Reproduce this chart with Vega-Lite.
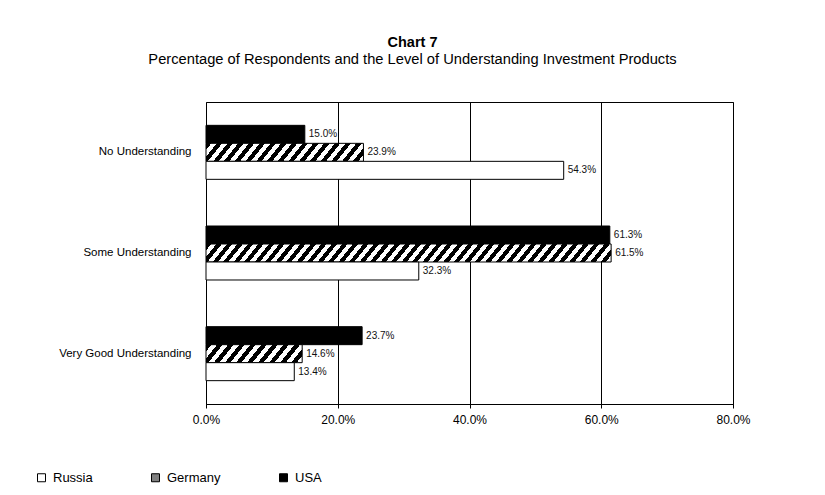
{
  "$schema": "https://vega.github.io/schema/vega-lite/v6.json",
  "width": 527,
  "height": 302,
  "autosize": {"type": "none"},
  "padding": {"left": 206, "top": 102, "right": 92, "bottom": 91},
  "background": "white",
  "config": {"font": "Liberation Sans", "view": {"stroke": "#000", "strokeWidth": 1}},
  "title": {
    "text": "Chart 7",
    "subtitle": "Percentage of Respondents and the Level of Understanding Investment Products",
    "anchor": "middle",
    "frame": "group",
    "dx": -57,
    "offset": 34,
    "fontSize": 14.5,
    "fontWeight": "bold",
    "color": "#000",
    "font": "Liberation Sans",
    "subtitleFont": "Liberation Sans",
    "subtitleFontSize": 14.7,
    "subtitleColor": "#000",
    "subtitlePadding": 2
  },
  "data": {
    "values": [
      {"level": "No Understanding", "country": "USA", "value": 0.150},
      {"level": "No Understanding", "country": "Germany", "value": 0.239},
      {"level": "No Understanding", "country": "Russia", "value": 0.543},
      {"level": "Some Understanding", "country": "USA", "value": 0.613},
      {"level": "Some Understanding", "country": "Germany", "value": 0.615},
      {"level": "Some Understanding", "country": "Russia", "value": 0.323},
      {"level": "Very Good Understanding", "country": "USA", "value": 0.237},
      {"level": "Very Good Understanding", "country": "Germany", "value": 0.146},
      {"level": "Very Good Understanding", "country": "Russia", "value": 0.134}
    ]
  },
  "encoding": {
    "y": {
      "field": "level",
      "type": "nominal",
      "sort": ["No Understanding", "Some Understanding", "Very Good Understanding"],
      "scale": {"paddingInner": 0.4636, "paddingOuter": 0.2318},
      "axis": {"title": null, "ticks": false, "domain": false, "labelPadding": 15, "labelFontSize": 11.5, "labelColor": "#000", "labelFont": "Liberation Sans"}
    },
    "yOffset": {
      "field": "country",
      "sort": ["USA", "Germany", "Russia"],
      "scale": {"paddingInner": 0, "paddingOuter": 0}
    },
    "x": {
      "field": "value",
      "type": "quantitative",
      "scale": {"domain": [0, 0.8], "nice": false},
      "axis": {
        "title": null,
        "values": [0, 0.2, 0.4, 0.6, 0.8],
        "format": ".1%",
        "grid": true,
        "gridColor": "#000",
        "gridOpacity": 1,
        "gridWidth": 1,
        "domainColor": "#000",
        "tickColor": "#000",
        "tickSize": 4,
        "labelFontSize": 12,
        "labelColor": "#000",
        "labelPadding": 6,
        "labelFlush": false,
        "labelFont": "Liberation Sans"
      }
    }
  },
  "layer": [
    {
      "mark": {"type": "bar", "stroke": "#000", "strokeWidth": 1},
      "encoding": {
        "fill": {
          "field": "country",
          "type": "nominal",
          "scale": {"domain": ["Russia", "Germany", "USA"], "range": ["#ffffff", "#808080", "#000000"]},
          "condition": [
            {
              "test": "datum.country === 'Germany' && datum.level === 'No Understanding'",
              "value": {
                "gradient": "linear", "x1": 0, "y1": 0, "x2": 1.0824, "y2": 0.099,
                "stops": [
                  {"offset": 0, "color": "#000"}, {"offset": 0.03125, "color": "#000"},
                  {"offset": 0.03125, "color": "#fff"}, {"offset": 0.0625, "color": "#fff"},
                  {"offset": 0.0625, "color": "#000"}, {"offset": 0.09375, "color": "#000"},
                  {"offset": 0.09375, "color": "#fff"}, {"offset": 0.125, "color": "#fff"},
                  {"offset": 0.125, "color": "#000"}, {"offset": 0.15625, "color": "#000"},
                  {"offset": 0.15625, "color": "#fff"}, {"offset": 0.1875, "color": "#fff"},
                  {"offset": 0.1875, "color": "#000"}, {"offset": 0.21875, "color": "#000"},
                  {"offset": 0.21875, "color": "#fff"}, {"offset": 0.25, "color": "#fff"},
                  {"offset": 0.25, "color": "#000"}, {"offset": 0.28125, "color": "#000"},
                  {"offset": 0.28125, "color": "#fff"}, {"offset": 0.3125, "color": "#fff"},
                  {"offset": 0.3125, "color": "#000"}, {"offset": 0.34375, "color": "#000"},
                  {"offset": 0.34375, "color": "#fff"}, {"offset": 0.375, "color": "#fff"},
                  {"offset": 0.375, "color": "#000"}, {"offset": 0.40625, "color": "#000"},
                  {"offset": 0.40625, "color": "#fff"}, {"offset": 0.4375, "color": "#fff"},
                  {"offset": 0.4375, "color": "#000"}, {"offset": 0.46875, "color": "#000"},
                  {"offset": 0.46875, "color": "#fff"}, {"offset": 0.5, "color": "#fff"},
                  {"offset": 0.5, "color": "#000"}, {"offset": 0.53125, "color": "#000"},
                  {"offset": 0.53125, "color": "#fff"}, {"offset": 0.5625, "color": "#fff"},
                  {"offset": 0.5625, "color": "#000"}, {"offset": 0.59375, "color": "#000"},
                  {"offset": 0.59375, "color": "#fff"}, {"offset": 0.625, "color": "#fff"},
                  {"offset": 0.625, "color": "#000"}, {"offset": 0.65625, "color": "#000"},
                  {"offset": 0.65625, "color": "#fff"}, {"offset": 0.6875, "color": "#fff"},
                  {"offset": 0.6875, "color": "#000"}, {"offset": 0.71875, "color": "#000"},
                  {"offset": 0.71875, "color": "#fff"}, {"offset": 0.75, "color": "#fff"},
                  {"offset": 0.75, "color": "#000"}, {"offset": 0.78125, "color": "#000"},
                  {"offset": 0.78125, "color": "#fff"}, {"offset": 0.8125, "color": "#fff"},
                  {"offset": 0.8125, "color": "#000"}, {"offset": 0.84375, "color": "#000"},
                  {"offset": 0.84375, "color": "#fff"}, {"offset": 0.875, "color": "#fff"},
                  {"offset": 0.875, "color": "#000"}, {"offset": 0.90625, "color": "#000"},
                  {"offset": 0.90625, "color": "#fff"}, {"offset": 0.9375, "color": "#fff"},
                  {"offset": 0.9375, "color": "#000"}, {"offset": 0.96875, "color": "#000"},
                  {"offset": 0.96875, "color": "#fff"}, {"offset": 1, "color": "#fff"}
                ]
              }
            },
            {
              "test": "datum.country === 'Germany' && datum.level === 'Some Understanding'",
              "value": {
                "gradient": "linear", "x1": 0, "y1": 0, "x2": 1.0342, "y2": 0.0368,
                "stops": [
                  {"offset": 0, "color": "#000"}, {"offset": 0.0125, "color": "#000"},
                  {"offset": 0.0125, "color": "#fff"}, {"offset": 0.025, "color": "#fff"},
                  {"offset": 0.025, "color": "#000"}, {"offset": 0.0375, "color": "#000"},
                  {"offset": 0.0375, "color": "#fff"}, {"offset": 0.05, "color": "#fff"},
                  {"offset": 0.05, "color": "#000"}, {"offset": 0.0625, "color": "#000"},
                  {"offset": 0.0625, "color": "#fff"}, {"offset": 0.075, "color": "#fff"},
                  {"offset": 0.075, "color": "#000"}, {"offset": 0.0875, "color": "#000"},
                  {"offset": 0.0875, "color": "#fff"}, {"offset": 0.1, "color": "#fff"},
                  {"offset": 0.1, "color": "#000"}, {"offset": 0.1125, "color": "#000"},
                  {"offset": 0.1125, "color": "#fff"}, {"offset": 0.125, "color": "#fff"},
                  {"offset": 0.125, "color": "#000"}, {"offset": 0.1375, "color": "#000"},
                  {"offset": 0.1375, "color": "#fff"}, {"offset": 0.15, "color": "#fff"},
                  {"offset": 0.15, "color": "#000"}, {"offset": 0.1625, "color": "#000"},
                  {"offset": 0.1625, "color": "#fff"}, {"offset": 0.175, "color": "#fff"},
                  {"offset": 0.175, "color": "#000"}, {"offset": 0.1875, "color": "#000"},
                  {"offset": 0.1875, "color": "#fff"}, {"offset": 0.2, "color": "#fff"},
                  {"offset": 0.2, "color": "#000"}, {"offset": 0.2125, "color": "#000"},
                  {"offset": 0.2125, "color": "#fff"}, {"offset": 0.225, "color": "#fff"},
                  {"offset": 0.225, "color": "#000"}, {"offset": 0.2375, "color": "#000"},
                  {"offset": 0.2375, "color": "#fff"}, {"offset": 0.25, "color": "#fff"},
                  {"offset": 0.25, "color": "#000"}, {"offset": 0.2625, "color": "#000"},
                  {"offset": 0.2625, "color": "#fff"}, {"offset": 0.275, "color": "#fff"},
                  {"offset": 0.275, "color": "#000"}, {"offset": 0.2875, "color": "#000"},
                  {"offset": 0.2875, "color": "#fff"}, {"offset": 0.3, "color": "#fff"},
                  {"offset": 0.3, "color": "#000"}, {"offset": 0.3125, "color": "#000"},
                  {"offset": 0.3125, "color": "#fff"}, {"offset": 0.325, "color": "#fff"},
                  {"offset": 0.325, "color": "#000"}, {"offset": 0.3375, "color": "#000"},
                  {"offset": 0.3375, "color": "#fff"}, {"offset": 0.35, "color": "#fff"},
                  {"offset": 0.35, "color": "#000"}, {"offset": 0.3625, "color": "#000"},
                  {"offset": 0.3625, "color": "#fff"}, {"offset": 0.375, "color": "#fff"},
                  {"offset": 0.375, "color": "#000"}, {"offset": 0.3875, "color": "#000"},
                  {"offset": 0.3875, "color": "#fff"}, {"offset": 0.4, "color": "#fff"},
                  {"offset": 0.4, "color": "#000"}, {"offset": 0.4125, "color": "#000"},
                  {"offset": 0.4125, "color": "#fff"}, {"offset": 0.425, "color": "#fff"},
                  {"offset": 0.425, "color": "#000"}, {"offset": 0.4375, "color": "#000"},
                  {"offset": 0.4375, "color": "#fff"}, {"offset": 0.45, "color": "#fff"},
                  {"offset": 0.45, "color": "#000"}, {"offset": 0.4625, "color": "#000"},
                  {"offset": 0.4625, "color": "#fff"}, {"offset": 0.475, "color": "#fff"},
                  {"offset": 0.475, "color": "#000"}, {"offset": 0.4875, "color": "#000"},
                  {"offset": 0.4875, "color": "#fff"}, {"offset": 0.5, "color": "#fff"},
                  {"offset": 0.5, "color": "#000"}, {"offset": 0.5125, "color": "#000"},
                  {"offset": 0.5125, "color": "#fff"}, {"offset": 0.525, "color": "#fff"},
                  {"offset": 0.525, "color": "#000"}, {"offset": 0.5375, "color": "#000"},
                  {"offset": 0.5375, "color": "#fff"}, {"offset": 0.55, "color": "#fff"},
                  {"offset": 0.55, "color": "#000"}, {"offset": 0.5625, "color": "#000"},
                  {"offset": 0.5625, "color": "#fff"}, {"offset": 0.575, "color": "#fff"},
                  {"offset": 0.575, "color": "#000"}, {"offset": 0.5875, "color": "#000"},
                  {"offset": 0.5875, "color": "#fff"}, {"offset": 0.6, "color": "#fff"},
                  {"offset": 0.6, "color": "#000"}, {"offset": 0.6125, "color": "#000"},
                  {"offset": 0.6125, "color": "#fff"}, {"offset": 0.625, "color": "#fff"},
                  {"offset": 0.625, "color": "#000"}, {"offset": 0.6375, "color": "#000"},
                  {"offset": 0.6375, "color": "#fff"}, {"offset": 0.65, "color": "#fff"},
                  {"offset": 0.65, "color": "#000"}, {"offset": 0.6625, "color": "#000"},
                  {"offset": 0.6625, "color": "#fff"}, {"offset": 0.675, "color": "#fff"},
                  {"offset": 0.675, "color": "#000"}, {"offset": 0.6875, "color": "#000"},
                  {"offset": 0.6875, "color": "#fff"}, {"offset": 0.7, "color": "#fff"},
                  {"offset": 0.7, "color": "#000"}, {"offset": 0.7125, "color": "#000"},
                  {"offset": 0.7125, "color": "#fff"}, {"offset": 0.725, "color": "#fff"},
                  {"offset": 0.725, "color": "#000"}, {"offset": 0.7375, "color": "#000"},
                  {"offset": 0.7375, "color": "#fff"}, {"offset": 0.75, "color": "#fff"},
                  {"offset": 0.75, "color": "#000"}, {"offset": 0.7625, "color": "#000"},
                  {"offset": 0.7625, "color": "#fff"}, {"offset": 0.775, "color": "#fff"},
                  {"offset": 0.775, "color": "#000"}, {"offset": 0.7875, "color": "#000"},
                  {"offset": 0.7875, "color": "#fff"}, {"offset": 0.8, "color": "#fff"},
                  {"offset": 0.8, "color": "#000"}, {"offset": 0.8125, "color": "#000"},
                  {"offset": 0.8125, "color": "#fff"}, {"offset": 0.825, "color": "#fff"},
                  {"offset": 0.825, "color": "#000"}, {"offset": 0.8375, "color": "#000"},
                  {"offset": 0.8375, "color": "#fff"}, {"offset": 0.85, "color": "#fff"},
                  {"offset": 0.85, "color": "#000"}, {"offset": 0.8625, "color": "#000"},
                  {"offset": 0.8625, "color": "#fff"}, {"offset": 0.875, "color": "#fff"},
                  {"offset": 0.875, "color": "#000"}, {"offset": 0.8875, "color": "#000"},
                  {"offset": 0.8875, "color": "#fff"}, {"offset": 0.9, "color": "#fff"},
                  {"offset": 0.9, "color": "#000"}, {"offset": 0.9125, "color": "#000"},
                  {"offset": 0.9125, "color": "#fff"}, {"offset": 0.925, "color": "#fff"},
                  {"offset": 0.925, "color": "#000"}, {"offset": 0.9375, "color": "#000"},
                  {"offset": 0.9375, "color": "#fff"}, {"offset": 0.95, "color": "#fff"},
                  {"offset": 0.95, "color": "#000"}, {"offset": 0.9625, "color": "#000"},
                  {"offset": 0.9625, "color": "#fff"}, {"offset": 0.975, "color": "#fff"},
                  {"offset": 0.975, "color": "#000"}, {"offset": 0.9875, "color": "#000"},
                  {"offset": 0.9875, "color": "#fff"}, {"offset": 1, "color": "#fff"}
                ]
              }
            },
            {
              "test": "datum.country === 'Germany' && datum.level === 'Very Good Understanding'",
              "value": {
                "gradient": "linear", "x1": 0, "y1": 0, "x2": 1.1245, "y2": 0.1684,
                "stops": [
                  {"offset": 0, "color": "#000"}, {"offset": 0.05, "color": "#000"},
                  {"offset": 0.05, "color": "#fff"}, {"offset": 0.1, "color": "#fff"},
                  {"offset": 0.1, "color": "#000"}, {"offset": 0.15, "color": "#000"},
                  {"offset": 0.15, "color": "#fff"}, {"offset": 0.2, "color": "#fff"},
                  {"offset": 0.2, "color": "#000"}, {"offset": 0.25, "color": "#000"},
                  {"offset": 0.25, "color": "#fff"}, {"offset": 0.3, "color": "#fff"},
                  {"offset": 0.3, "color": "#000"}, {"offset": 0.35, "color": "#000"},
                  {"offset": 0.35, "color": "#fff"}, {"offset": 0.4, "color": "#fff"},
                  {"offset": 0.4, "color": "#000"}, {"offset": 0.45, "color": "#000"},
                  {"offset": 0.45, "color": "#fff"}, {"offset": 0.5, "color": "#fff"},
                  {"offset": 0.5, "color": "#000"}, {"offset": 0.55, "color": "#000"},
                  {"offset": 0.55, "color": "#fff"}, {"offset": 0.6, "color": "#fff"},
                  {"offset": 0.6, "color": "#000"}, {"offset": 0.65, "color": "#000"},
                  {"offset": 0.65, "color": "#fff"}, {"offset": 0.7, "color": "#fff"},
                  {"offset": 0.7, "color": "#000"}, {"offset": 0.75, "color": "#000"},
                  {"offset": 0.75, "color": "#fff"}, {"offset": 0.8, "color": "#fff"},
                  {"offset": 0.8, "color": "#000"}, {"offset": 0.85, "color": "#000"},
                  {"offset": 0.85, "color": "#fff"}, {"offset": 0.9, "color": "#fff"},
                  {"offset": 0.9, "color": "#000"}, {"offset": 0.95, "color": "#000"},
                  {"offset": 0.95, "color": "#fff"}, {"offset": 1, "color": "#fff"}
                ]
              }
            }
          ],
          "legend": {
            "title": null,
            "orient": "none",
            "legendX": -171,
            "legendY": 369,
            "direction": "horizontal",
            "symbolType": "square",
            "symbolSize": 64,
            "symbolStrokeColor": "#000",
            "symbolStrokeWidth": 1,
            "labelFontSize": 13,
            "labelColor": "#000",
            "labelFont": "Liberation Sans",
            "labelOffset": 5,
            "columnPadding": 56
          }
        }
      }
    },
    {
      "mark": {"type": "text", "align": "left", "dx": 4, "fontSize": 10, "color": "#111", "font": "Liberation Sans"},
      "encoding": {
        "text": {"field": "value", "type": "quantitative", "format": ".1%"}
      }
    }
  ]
}
